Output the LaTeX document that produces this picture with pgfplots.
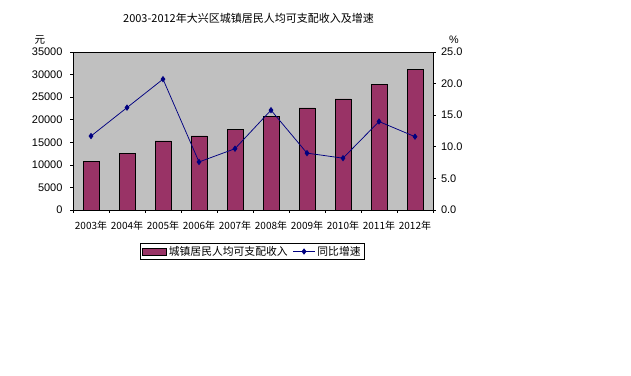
\documentclass[border=0pt]{standalone}
\usepackage{pgfplots}
\pgfplotsset{compat=1.18}
\usepackage{fontspec}
\setmainfont{Liberation Sans}
\newfontfamily\cjk{Noto Sans CJK SC}
\definecolor{barc}{RGB}{153,51,102}
\definecolor{linec}{RGB}{0,0,128}
\definecolor{bg}{RGB}{192,192,192}
\pgfplotsset{
  linelegend/.style={legend image code/.code={\draw[mark repeat=2,mark phase=2,##1] plot coordinates {(0bp,0bp) (11bp,0bp) (22bp,0bp)};}},
  barlegend/.style={legend image code/.code={\draw[fill=barc,draw=black,line width=0.5bp] (0bp,-3.5bp) rectangle (24bp,3.5bp);}}
}
\begin{document}
\begin{tikzpicture}
\path[use as bounding box] (0,0) rectangle (631bp,376bp);
\begin{axis}[
  at={(73bp,166bp)}, anchor=south west, scale only axis,
  width=360bp, height=158bp,
  xmin=-0.5, xmax=9.5, ymin=0, ymax=35000,
  ytick={0,5000,...,35000},
  scaled y ticks=false,
  ytick pos=left, xtick pos=bottom,
  xtick={-0.5,0.5,...,9.5},
  x tick label as interval,
  xticklabels={2003年,2004年,2005年,2006年,2007年,2008年,2009年,2010年,2011年,2012年},
  x tick label style={font=\cjk\fontsize{10bp}{12bp}\selectfont, yshift=-5bp},
  xtick align=inside, ytick align=outside,
  major tick length=3bp,
  tick style={black, line width=0.6bp},
  ybar, bar width=15.7bp,
  axis background/.style={fill=bg},
  axis line style={black, line width=0.75bp},
  y tick label style={font=\fontsize{11bp}{13bp}\selectfont, xshift=-4bp},
  /pgf/number format/assume math mode=true,
  /pgf/number format/1000 sep={},
  every axis y label/.style={at={(axis description cs:-0.092,1.076)}, anchor=center, font=\cjk\fontsize{10.5bp}{12bp}\selectfont},
  ylabel={元},
  title={2003-2012年大兴区城镇居民人均可支配收入及增速},
  every axis title/.style={at={(axis description cs:0.4875,1.212)}, anchor=center, font=\cjk\fontsize{11bp}{13bp}\selectfont},
]
\addplot[fill=barc, draw=black, line width=0.5bp] coordinates {
(0,10800) (1,12500) (2,15300) (3,16400) (4,17900) (5,20800) (6,22600) (7,24600) (8,27900) (9,31200)};
\end{axis}
\begin{axis}[
  at={(73bp,166bp)}, anchor=south west, scale only axis,
  width=360bp, height=158bp,
  xmin=-0.5, xmax=9.5, ymin=0, ymax=25,
  axis x line=none, axis y line*=right,
  ytick={0,5,...,25},
  ytick align=outside, major tick length=3bp,
  tick style={black, line width=0.6bp},
  axis line style={black, line width=0.75bp},
  y tick label style={font=\fontsize{11bp}{13bp}\selectfont, xshift=1.5bp},
  /pgf/number format/assume math mode=true,
  /pgf/number format/fixed, /pgf/number format/fixed zerofill, /pgf/number format/precision=1,
  every axis y label/.style={at={(axis description cs:1.058,1.076)}, anchor=center, font=\fontsize{10.8bp}{12bp}\selectfont},
  ylabel={\%},
  legend style={at={(axis description cs:0.4986,-0.2627)}, anchor=center, legend columns=2,
    draw=black, line width=0.75bp, font=\cjk\fontsize{10.8bp}{12bp}\selectfont,
    inner xsep=2bp, inner ysep=1bp,
    /tikz/every even column/.append style={column sep=3bp}},
  legend cell align=left,
]
\addlegendimage{barlegend}
\addlegendentry{城镇居民人均可支配收入}
\addplot[linec, line width=0.75bp, mark=diamond*, mark size=2.6bp, mark options={fill=linec}, linelegend]
  coordinates {(0,11.7) (1,16.2) (2,20.7) (3,7.6) (4,9.7) (5,15.8) (6,9.0) (7,8.2) (8,14.0) (9,11.6)};
\addlegendentry{同比增速}
\end{axis}
\end{tikzpicture}
\end{document}
